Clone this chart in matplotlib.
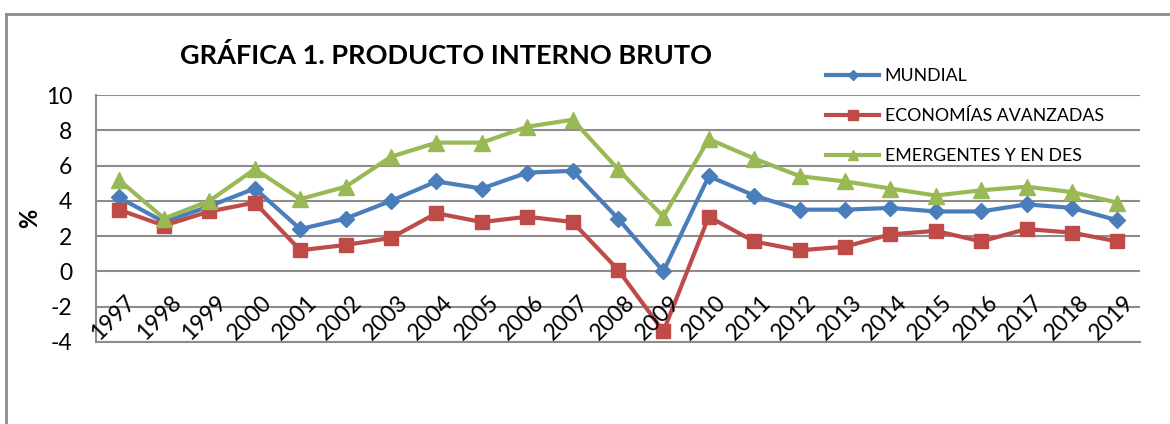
import matplotlib.pyplot as plt
from matplotlib.lines import Line2D
import matplotlib.transforms as mtransforms

plt.rcParams['font.family'] = ['Lato', 'DejaVu Sans']

# datos
years = [str(y) for y in range(1997, 2020)]
mundial = [4.2, 2.8, 3.7, 4.7, 2.4, 3.0, 4.0, 5.1, 4.7, 5.6, 5.7, 3.0, 0.0,
           5.4, 4.3, 3.5, 3.5, 3.6, 3.4, 3.4, 3.8, 3.6, 2.9]
avanzadas = [3.5, 2.6, 3.4, 3.9, 1.2, 1.5, 1.9, 3.3, 2.8, 3.1, 2.8, 0.1, -3.4,
             3.1, 1.7, 1.2, 1.4, 2.1, 2.3, 1.7, 2.4, 2.2, 1.7]
emergentes = [5.2, 3.0, 4.0, 5.8, 4.1, 4.8, 6.5, 7.3, 7.3, 8.2, 8.6, 5.8, 3.1,
              7.5, 6.4, 5.4, 5.1, 4.7, 4.3, 4.6, 4.8, 4.5, 3.9]
yticks = [-4, -2, 0, 2, 4, 6, 8, 10]

fig = plt.figure(figsize=(11.7, 4.24), dpi=100)
ax = fig.add_axes([96 / 1170, 1 - 342 / 424, (1140 - 96) / 1170, (342 - 95) / 424])

x = list(range(len(years)))
ax.plot(x, mundial, color='#4a7ebb', lw=3, marker='D', ms=8, label='MUNDIAL', zorder=3)
ax.plot(x, avanzadas, color='#be4b48', lw=3, marker='s', ms=10, label='ECONOMÍAS AVANZADAS', zorder=3)
ax.plot(x, emergentes, color='#98b954', lw=3, marker='^', ms=11, label='EMERGENTES Y EN DES', zorder=3)

ax.set_xlim(-0.5, len(years) - 0.5)
ax.set_ylim(-4, 10)
ax.set_yticks(yticks)
ax.set_yticklabels([str(v) for v in yticks], fontsize=16.5)
ax.tick_params(axis='y', length=0, pad=17)
ax.set_xticks([])
ax.grid(axis='y', color='#8c8c8c', lw=1.5)
ax.set_axisbelow(True)
for s in ['top', 'right']:
    ax.spines[s].set_visible(False)
ax.spines['left'].set_color('#8c8c8c')
ax.spines['bottom'].set_color('#8c8c8c')
ax.spines['left'].set_linewidth(1.5)
ax.spines['bottom'].set_linewidth(1.5)

# etiquetas de años sobre la línea del 0
off = mtransforms.ScaledTranslation(6 / 100, -20 / 100, fig.dpi_scale_trans)
for i, yr in enumerate(years):
    ax.text(i, 0, yr, rotation=45, rotation_mode='anchor', ha='right', va='top',
            fontsize=16.5, transform=ax.transData + off)

ax.text(30 / 1170, 1 - 218 / 424, '%', rotation=90, ha='center', va='center',
        fontsize=17, fontweight='bold', transform=fig.transFigure)

fig.text(446 / 1170, 1 - 56 / 424, 'GRÁFICA 1. PRODUCTO INTERNO BRUTO', ha='center', va='center',
         fontsize=19.5, fontweight='bold')

leg = ax.legend(loc='upper left', bbox_to_anchor=(810 / 1170, 1 - 52 / 424),
                bbox_transform=fig.transFigure, frameon=False, fontsize=12.8,
                handlelength=3.0, labelspacing=1.35, handletextpad=0.3, markerscale=0.7)

# marco exterior
fig.add_artist(Line2D([6 / 1170, 6 / 1170], [0, 1 - 14 / 424], color='#8c8c8c', lw=2))
fig.add_artist(Line2D([6 / 1170, 1], [1 - 14 / 424, 1 - 14 / 424], color='#8c8c8c', lw=2))

fig.savefig('out.png', dpi=100, facecolor='white')
